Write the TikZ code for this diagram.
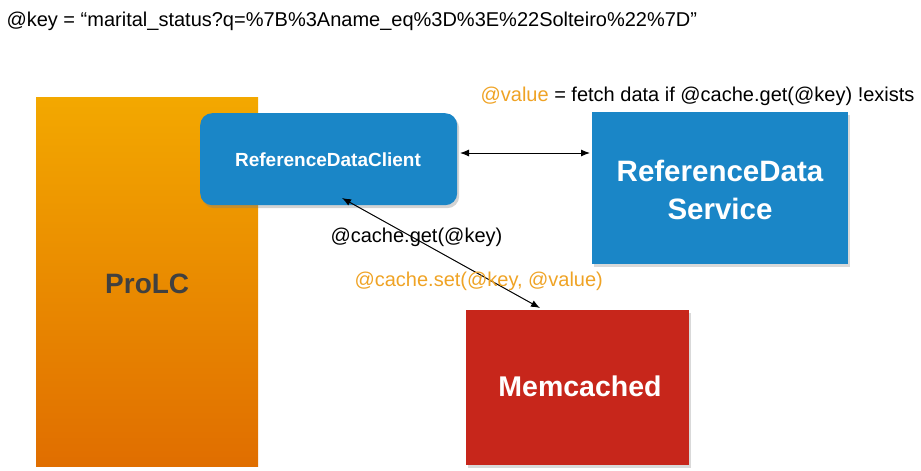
\documentclass[tikz,border=0pt]{standalone}
\usepackage{fontspec}
\setmainfont{Liberation Sans}
\usetikzlibrary{arrows.meta,shadows}
\definecolor{blu}{HTML}{1A86C7}
\definecolor{redm}{HTML}{C7261B}
\definecolor{orT}{HTML}{F3A800}
\definecolor{orB}{HTML}{E06E00}
\definecolor{lbl}{HTML}{EFA325}
\begin{document}
\begin{tikzpicture}[x=1pt,y=-1pt,
  box/.style={draw=none,anchor=north west,inner sep=0pt},
  arr/.style={{Latex[length=9pt,width=7pt]}-{Latex[length=9pt,width=7pt]},line width=1pt},
  txt/.style={font=\fontsize{20}{24}\selectfont}]
\useasboundingbox (0,0) rectangle (921,471);
\node[txt,anchor=west] (key) at (3,21) {@key = “marital\_status?q=\%7B\%3Aname\_eq\%3D\%3E\%22Solteiro\%22\%7D”};
\node[box,minimum width=222pt,minimum height=369pt,top color=orT,bottom color=orB] (prolc) at (36,97) {};
\node[font=\fontsize{28}{32}\selectfont\bfseries,text=black!75] at ([yshift=-2pt]prolc.center) {ProLC};
\node[box,fill=blu,rounded corners=12pt,minimum width=257pt,minimum height=92pt,drop shadow={opacity=0.35,shadow xshift=2pt,shadow yshift=-3pt}] (client) at (200,113) {};
\node[font=\fontsize{19}{22}\selectfont\bfseries,text=white] at (328,160) {ReferenceDataClient};
\node[box,fill=blu,minimum width=256pt,minimum height=152pt,drop shadow={opacity=0.3,shadow xshift=2pt,shadow yshift=-3pt}] (svc) at (592,112) {};
\node[font=\fontsize{29.5}{38}\selectfont\bfseries,text=white,align=center] at (720,190) {ReferenceData\\Service};
\node[box,fill=redm,minimum width=223pt,minimum height=155pt,drop shadow={opacity=0.3,shadow xshift=2pt,shadow yshift=-3pt}] (mem) at (466,310) {};
\node[font=\fontsize{28.5}{32}\selectfont\bfseries,text=white] at (580,386) {Memcached};
\node[txt,anchor=east] (val) at (918,96) {\textcolor{lbl}{@value} = fetch data if @cache.get(@key) !exists};
\coordinate (c1) at (460,153);
\coordinate (s1) at (590,153);
\coordinate (c2) at (342,198);
\coordinate (m2) at (540,308);
\draw[arr] (c1) -- (s1);
\draw[arr] (c2) -- (m2);
\node[txt,anchor=west] (get) at (327,237) {@cache.get(@key)};
\node[txt,anchor=west,text=lbl] (set) at (351,281) {@cache.set(@key, @value)};
\end{tikzpicture}
\end{document}
